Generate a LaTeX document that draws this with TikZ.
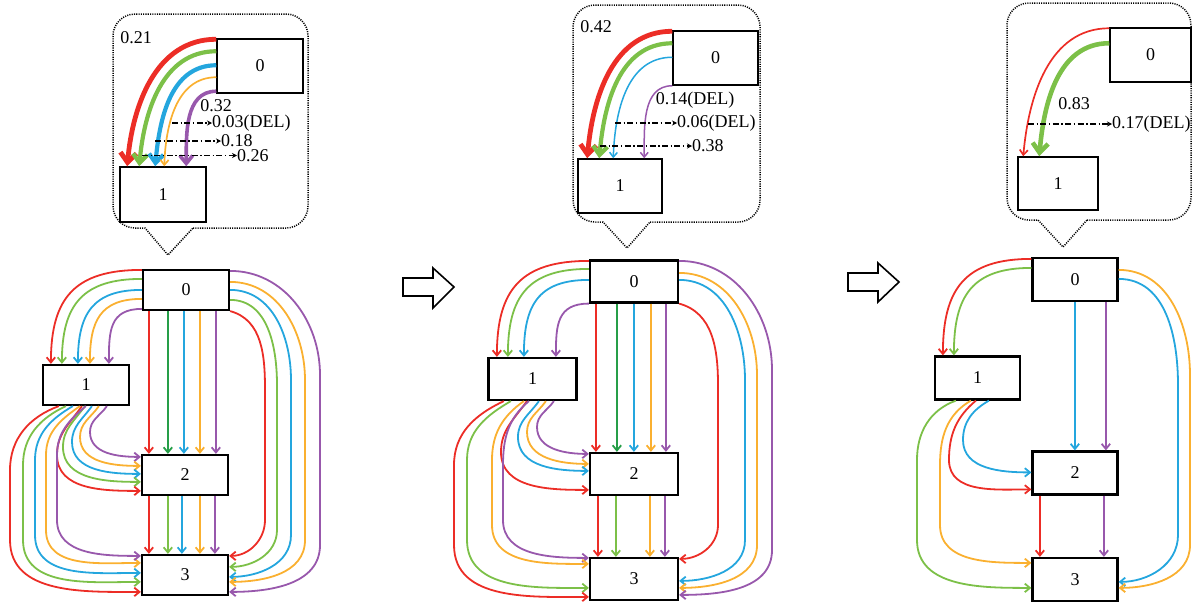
\documentclass[tikz,border=0pt]{standalone}
\usepackage{fontspec}
\setmainfont{Liberation Serif}
\usetikzlibrary{arrows.meta}
\definecolor{cRed}{RGB}{236,45,38}
\definecolor{cGreen}{RGB}{124,192,72}
\definecolor{cDGreen}{RGB}{38,158,72}
\definecolor{cBlue}{RGB}{36,166,222}
\definecolor{cOrange}{RGB}{250,176,48}
\definecolor{cPurple}{RGB}{152,88,172}
% speech bubble: left, right, top, bottom, pointer left, pointer right, tip x, tip y (y measured downwards)
\newcommand{\bubble}[8]{%
  \draw[bubbleline] (#6,-#4) -- ({#2-22},-#4) arc[start angle=-90,end angle=0,radius=22]
    -- (#2,{-#3-22}) arc[start angle=0,end angle=90,radius=22]
    -- ({#1+22},-#3) arc[start angle=90,end angle=180,radius=22]
    -- (#1,{-#4+22}) arc[start angle=180,end angle=270,radius=22]
    -- (#5,-#4) -- (#7,-#8) -- cycle;}
\tikzset{
  box/.style={draw, fill=white, line width=2.2pt, inner sep=0pt},
  cbox/.style={draw, fill=white, line width=1.5pt, inner sep=0pt},
  flow/.style={line width=1.8pt, -{Straight Barb[length=2.5pt 1.5, width=4pt 2.5]}},
  dd/.style={line width=1.4pt, dash pattern=on 6pt off 2.5pt on 1.4pt off 2.5pt, -{Stealth[length=5pt,width=5pt]}},
  bubbleline/.style={line width=1.5pt, dash pattern=on 1.1pt off 1.2pt},
  lbl/.style={inner sep=0pt},
  blockarrow/.style={draw, line width=1.6pt},
}
\begin{document}
\begin{tikzpicture}[x=1pt,y=1pt,font=\fontsize{18}{21}\selectfont]
\useasboundingbox (0,0) rectangle (1192,-603);

% ---------------- first state ----------------
\bubble{113}{308}{14}{228}{145}{193}{168}{255}
\node[cbox, minimum width=86pt, minimum height=54pt] (D0) at (260,-66) {0};
\node[cbox, minimum width=86pt, minimum height=55pt] (D1) at (163,-194.5) {1};
\draw[flow, cRed, line width=4.8pt] ([yshift=-1]D0.north west) to[out=180,in=85] ([xshift=8]D1.north west);
\draw[flow, cGreen, line width=4.2pt] ([yshift=-13]D0.north west) to[out=180,in=85] ([xshift=20]D1.north west);
\draw[flow, cBlue, line width=4.2pt] ([yshift=-27]D0.north west) to[out=180,in=85] ([xshift=36]D1.north west);
\draw[flow, cOrange, line width=1.7pt] ([yshift=-39]D0.north west) to[out=180,in=88] ([xshift=45]D1.north west);
\draw[flow, cPurple, line width=3.6pt] ([yshift=-53]D0.north west) to[out=180,in=90] ([xshift=67]D1.north west);
\node[lbl] (p021) at (136,-38) {0.21};
\node[lbl] (p032) at (216,-106) {0.32};
\node[lbl, anchor=west] (p003) at (212,-123) {0.03(DEL)};
\node[lbl, anchor=west] (p018) at (221,-141) {0.18};
\node[lbl, anchor=west] (p026) at (237,-155.5) {0.26};
\coordinate (q003) at (172,-123);
\coordinate (q018) at (155,-141);
\coordinate (q026) at (142,-155.5);
\draw[dd] (q003) -- (p003.west);
\draw[dd] (q018) -- (p018.west);
\draw[dd] (q026) -- (p026.west);

\node[box, minimum width=86pt, minimum height=40pt] (A0) at (186,-290) {0};
\node[box, minimum width=86pt, minimum height=40pt] (A1) at (86,-385) {1};
\node[box, minimum width=86pt, minimum height=40pt] (A2) at (185,-475) {2};
\node[box, minimum width=86pt, minimum height=40pt] (A3) at (185,-575) {3};
% 0 -> 1
\draw[flow, cRed] ([yshift=-1]A0.north west) to[out=180,in=90,looseness=1.3] ([xshift=9]A1.north west);
\draw[flow, cGreen] ([yshift=-10]A0.north west) to[out=180,in=90,looseness=1.3] ([xshift=20]A1.north west);
\draw[flow, cBlue] ([yshift=-21]A0.north west) to[out=180,in=90,looseness=1.3] ([xshift=36]A1.north west);
\draw[flow, cOrange] ([yshift=-30]A0.north west) to[out=180,in=90,looseness=1.3] ([xshift=48]A1.north west);
\draw[flow, cPurple] ([yshift=-40]A0.north west) to[out=180,in=90,looseness=1.3] ([xshift=67]A1.north west);
% 0 -> 2
\draw[flow, cRed] ([xshift=7]A0.south west) -- ([xshift=7]A0.south west |- A2.north);
\draw[flow, cDGreen] ([xshift=26]A0.south west) -- ([xshift=26]A0.south west |- A2.north);
\draw[flow, cBlue] ([xshift=42]A0.south west) -- ([xshift=42]A0.south west |- A2.north);
\draw[flow, cOrange] ([xshift=58]A0.south west) -- ([xshift=58]A0.south west |- A2.north);
\draw[flow, cPurple] ([xshift=74]A0.south west) -- ([xshift=74]A0.south west |- A2.north);
% 2 -> 3
\draw[flow, cRed] ([xshift=8]A2.south west) -- ([xshift=8]A2.south west |- A3.north);
\draw[flow, cGreen] ([xshift=27]A2.south west) -- ([xshift=27]A2.south west |- A3.north);
\draw[flow, cBlue] ([xshift=41]A2.south west) -- ([xshift=41]A2.south west |- A3.north);
\draw[flow, cOrange] ([xshift=59]A2.south west) -- ([xshift=59]A2.south west |- A3.north);
\draw[flow, cPurple] ([xshift=74]A2.south west) -- ([xshift=74]A2.south west |- A3.north);
% 0 -> 3
\draw[flow, cRed] (A0.south east) to[out=-15,in=90] (265,-390) -- (265,-520) to[out=-90,in=0] ([yshift=-2]A3.north east);
\draw[flow, cGreen] ([yshift=-31]A0.north east) to[out=0,in=90] (277,-385) -- (277,-530) to[out=-90,in=0] ([yshift=-13]A3.north east);
\draw[flow, cBlue] ([yshift=-21]A0.north east) to[out=0,in=90] (291,-380) -- (291,-535) to[out=-90,in=0] ([yshift=-23]A3.north east);
\draw[flow, cOrange] ([yshift=-13]A0.north east) to[out=0,in=90] (305,-380) -- (305,-540) to[out=-90,in=0] ([yshift=-28]A3.north east);
\draw[flow, cPurple] ([yshift=-2]A0.north east) to[out=0,in=90] (320,-375) -- (320,-545) to[out=-90,in=0] ([yshift=-38]A3.north east);
% 1 -> 2
\draw[flow, cPurple] ([xshift=65]A1.south west) to[out=235,in=90] (90,-432) to[out=-90,in=180] ([yshift=-3]A2.north west);
\draw[flow, cOrange] ([xshift=57]A1.south west) to[out=235,in=90] (80,-437) to[out=-90,in=180] ([yshift=-12]A2.north west);
\draw[flow, cBlue] ([xshift=50]A1.south west) to[out=235,in=90] (72,-442) to[out=-90,in=180] ([yshift=-20]A2.north west);
\draw[flow, cGreen] ([xshift=43]A1.south west) to[out=235,in=90] (63,-447) to[out=-90,in=180] ([yshift=-28]A2.north west);
\draw[flow, cRed] ([xshift=40]A1.south west) to[out=235,in=90] (57,-455) to[out=-90,in=180] ([yshift=-37]A2.north west);
% 1 -> 3
\draw[flow, cRed] ([xshift=17]A1.south west) to[out=200,in=90] (10,-470) -- (10,-540) to[out=-90,in=180] ([yshift=-38]A3.north west);
\draw[flow, cGreen] ([xshift=24]A1.south west) to[out=205,in=90] (23,-465) -- (23,-540) to[out=-90,in=180] ([yshift=-28]A3.north west);
\draw[flow, cBlue] ([xshift=31]A1.south west) to[out=210,in=90] (35,-460) -- (35,-535) to[out=-90,in=180] ([yshift=-19]A3.north west);
\draw[flow, cOrange] ([xshift=38]A1.south west) to[out=215,in=90] (46,-455) -- (46,-530) to[out=-90,in=180] ([yshift=-9]A3.north west);
\draw[flow, cPurple] ([xshift=44]A1.south west) to[out=220,in=90] (57,-455) -- (57,-520) to[out=-90,in=180] ([yshift=-2]A3.north west);

% block arrow between states
\draw[blockarrow] (403,-278) -- (433,-278) -- (433,-268) -- (454,-287) -- (433,-308) -- (433,-296) -- (403,-296) -- cycle;

% ---------------- second state ----------------
\bubble{573}{760}{5}{222}{603}{650}{627}{248}
\node[cbox, minimum width=85pt, minimum height=54pt] (E0) at (715.5,-58) {0};
\node[cbox, minimum width=84pt, minimum height=54pt] (E1) at (620,-186) {1};
\draw[flow, cRed, line width=4.8pt] ([yshift=-1]E0.north west) to[out=180,in=85] ([xshift=10]E1.north west);
\draw[flow, cGreen, line width=4.2pt] ([yshift=-13]E0.north west) to[out=180,in=85] ([xshift=22]E1.north west);
\draw[flow, cBlue, line width=1.5pt] ([yshift=-27]E0.north west) to[out=180,in=88] ([xshift=36]E1.north west);
\draw[flow, cPurple, line width=1.5pt] (E0.south west) to[out=180,in=90] ([xshift=67]E1.north west);
\node[lbl] (p042) at (596,-27) {0.42};
\node[lbl] (p014) at (695,-100) {0.14(DEL)};
\node[lbl, anchor=west] (p006) at (677,-123) {0.06(DEL)};
\node[lbl, anchor=west] (p038) at (692,-146) {0.38};
\coordinate (q006) at (615,-123);
\coordinate (q038) at (600,-146);
\draw[dd] (q006) -- (p006.west);
\draw[dd] (q038) -- (p038.west);

\node[box, minimum width=88pt, minimum height=42pt] (B0) at (634,-281.5) {0};
\node[box, minimum width=88pt, minimum height=42pt] (B1) at (532.5,-379) {1};
\node[box, minimum width=88pt, minimum height=42pt] (B2) at (634,-474) {2};
\node[box, minimum width=88pt, minimum height=42pt] (B3) at (634,-579) {3};
% 0 -> 1
\draw[flow, cRed] ([yshift=-1.5]B0.north west) to[out=180,in=90,looseness=1.3] ([xshift=9.5]B1.north west);
\draw[flow, cGreen] ([yshift=-9.5]B0.north west) to[out=180,in=90,looseness=1.3] ([xshift=20.5]B1.north west);
\draw[flow, cBlue] ([yshift=-20.5]B0.north west) to[out=180,in=90,looseness=1.3] ([xshift=36.5]B1.north west);
\draw[flow, cPurple] (B0.south west) to[out=180,in=90,looseness=1.3] ([xshift=68.5]B1.north west);
% 0 -> 2
\draw[flow, cRed] ([xshift=7]B0.south west) -- ([xshift=7]B0.south west |- B2.north);
\draw[flow, cDGreen] ([xshift=28]B0.south west) -- ([xshift=28]B0.south west |- B2.north);
\draw[flow, cBlue] ([xshift=45]B0.south west) -- ([xshift=45]B0.south west |- B2.north);
\draw[flow, cOrange] ([xshift=62]B0.south west) -- ([xshift=62]B0.south west |- B2.north);
\draw[flow, cPurple] ([xshift=77]B0.south west) -- ([xshift=77]B0.south west |- B2.north);
% 2 -> 3
\draw[flow, cRed] ([xshift=9]B2.south west) -- ([xshift=9]B2.south west |- B3.north);
\draw[flow, cGreen] ([xshift=27]B2.south west) -- ([xshift=27]B2.south west |- B3.north);
\draw[flow, cOrange] ([xshift=61]B2.south west) -- ([xshift=61]B2.south west |- B3.north);
\draw[flow, cPurple] ([xshift=76]B2.south west) -- ([xshift=76]B2.south west |- B3.north);
% 0 -> 3
\draw[flow, cRed] (B0.south east) to[out=-15,in=90] (718,-385) -- (718,-525) to[out=-90,in=0] ([yshift=-2]B3.north east);
\draw[flow, cBlue] ([yshift=-20.5]B0.north east) to[out=0,in=90] (745,-380) -- (745,-540) to[out=-90,in=0] ([yshift=-24]B3.north east);
\draw[flow, cOrange] ([yshift=-13.5]B0.north east) to[out=0,in=90] (757,-375) -- (757,-545) to[out=-90,in=0] ([yshift=-31]B3.north east);
\draw[flow, cPurple] ([yshift=-1.5]B0.north east) to[out=0,in=90] (772,-370) -- (772,-550) to[out=-90,in=0] ([yshift=-38]B3.north east);
% 1 -> 2
\draw[flow, cPurple] ([xshift=66.5]B1.south west) to[out=235,in=90] (537,-427) to[out=-90,in=180] ([yshift=-2]B2.north west);
\draw[flow, cOrange] ([xshift=58.5]B1.south west) to[out=235,in=90] (527,-432) to[out=-90,in=180] ([yshift=-12]B2.north west);
\draw[flow, cBlue] ([xshift=51.5]B1.south west) to[out=235,in=90] (518,-437) to[out=-90,in=180] ([yshift=-19]B2.north west);
\draw[flow, cRed] ([xshift=39.5]B1.south west) to[out=235,in=90] (501,-452) to[out=-90,in=180] ([yshift=-38]B2.north west);
% 1 -> 3
\draw[flow, cPurple] ([xshift=41.5]B1.south west) to[out=220,in=90] (503,-465) -- (503,-520) to[out=-90,in=180] ([yshift=-1]B3.north west);
\draw[flow, cOrange] ([xshift=36.5]B1.south west) to[out=215,in=90] (492,-460) -- (492,-525) to[out=-90,in=180] ([yshift=-7]B3.north west);
\draw[flow, cGreen] ([xshift=23.5]B1.south west) to[out=210,in=90] (467,-460) -- (467,-540) to[out=-90,in=180] ([yshift=-31]B3.north west);
\draw[flow, cRed] ([xshift=16.5]B1.south west) to[out=205,in=90] (454,-465) -- (454,-545) to[out=-90,in=180] ([yshift=-40]B3.north west);

% block arrow between states
\draw[blockarrow] (848,-273) -- (878,-273) -- (878,-263) -- (899,-282) -- (878,-302) -- (878,-291) -- (848,-291) -- cycle;

% ---------------- third state ----------------
\bubble{1007}{1191}{3}{220}{1038}{1087}{1063}{247}
\node[cbox, minimum width=81pt, minimum height=54pt] (F0) at (1150.5,-55) {0};
\node[cbox, minimum width=80pt, minimum height=53pt] (F1) at (1058,-183.5) {1};
\draw[flow, cRed, line width=1.7pt] ([yshift=-1]F0.north west) to[out=180,in=85] ([xshift=6]F1.north west);
\draw[flow, cGreen, line width=4.6pt] ([yshift=-16]F0.north west) to[out=180,in=85] ([xshift=22]F1.north west);
\node[lbl] (p083) at (1074,-104) {0.83};
\node[lbl, anchor=west] (p017) at (1112,-124) {0.17(DEL)};
\coordinate (q017) at (1028,-124);
\draw[dd] (q017) -- (p017.west);

\node[box, minimum width=85pt, minimum height=43pt] (C0) at (1075,-279.5) {0};
\node[box, minimum width=85pt, minimum height=43pt] (C1) at (977.5,-378) {1};
\node[box, minimum width=85pt, minimum height=43pt] (C2) at (1075,-473) {2};
\node[box, minimum width=85pt, minimum height=43pt] (C3) at (1075,-579.5) {3};
% 0 -> 1
\draw[flow, cRed] ([yshift=-2]C0.north west) to[out=180,in=90,looseness=1.3] ([xshift=9]C1.north west);
\draw[flow, cGreen] ([yshift=-11]C0.north west) to[out=180,in=90,looseness=1.3] ([xshift=20]C1.north west);
% 0 -> 2
\draw[flow, cBlue] ([xshift=43.5]C0.south west) -- ([xshift=43.5]C0.south west |- C2.north);
\draw[flow, cPurple] ([xshift=74.5]C0.south west) -- ([xshift=74.5]C0.south west |- C2.north);
% 2 -> 3
\draw[flow, cRed] ([xshift=8.5]C2.south west) -- ([xshift=8.5]C2.south west |- C3.north);
\draw[flow, cPurple] ([xshift=72.5]C2.south west) -- ([xshift=72.5]C2.south west |- C3.north);
% 0 -> 3
\draw[flow, cBlue] ([yshift=-22]C0.north east) to[out=0,in=90] (1178,-385) -- (1178,-535) to[out=-90,in=0] ([yshift=-25]C3.north east);
\draw[flow, cOrange] ([yshift=-13]C0.north east) to[out=0,in=90] (1190,-375) -- (1190,-545) to[out=-90,in=0] ([yshift=-31]C3.north east);
% 1 -> 2
\draw[flow, cBlue] ([xshift=55]C1.south west) to[out=210,in=90] (963,-440) to[out=-90,in=180] ([yshift=-22]C2.north west);
\draw[flow, cRed] ([xshift=42]C1.south west) to[out=220,in=90] (949,-460) to[out=-90,in=180] ([yshift=-39]C2.north west);
% 1 -> 3
\draw[flow, cOrange] ([xshift=37]C1.south west) to[out=210,in=90] (940,-465) -- (940,-525) to[out=-90,in=180] ([yshift=-6]C3.north west);
\draw[flow, cGreen] ([xshift=22]C1.south west) to[out=200,in=90] (917,-460) -- (917,-540) to[out=-90,in=180] ([yshift=-31]C3.north west);
\end{tikzpicture}
\end{document}
